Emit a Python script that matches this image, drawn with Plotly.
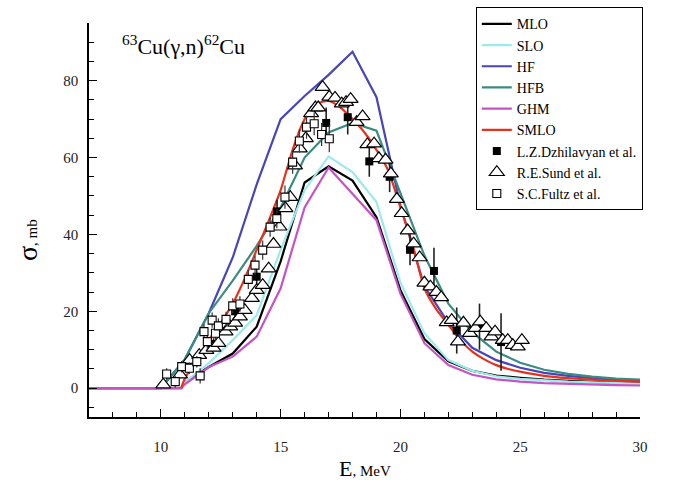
import plotly.graph_objects as go

# ---------------- model curves ----------------
E_mlo = [7, 10.85, 11, 12, 13, 14, 15, 16, 17, 18, 19, 20, 21, 22, 23, 24, 25, 26, 27, 28, 29, 30]
s_mlo = [0, 0, 1.5, 5.5, 9, 16, 33, 53.5, 57.7, 54, 44.5, 25.5, 12.8, 7, 4.5, 3.3, 2.7, 2.2, 1.9, 1.6, 1.4, 1.3]

E_slo = [7, 10.85, 11, 12, 13, 14, 15, 16, 17, 18, 19, 20, 21, 22, 23, 24, 25, 26, 27, 28, 29, 30]
s_slo = [0, 0, 1.5, 6.5, 12.5, 19, 36, 51.5, 60.3, 56.2, 48.4, 27.5, 14.3, 7.3, 4.5, 3.1, 2.4, 2.0, 1.7, 1.5, 1.3, 1.2]

E_hf = [7, 10, 11, 12, 13, 14, 15, 16, 17, 18, 19, 20, 21, 22, 23, 24, 25, 26, 27, 28, 29, 30]
s_hf = [0, 0, 7.5, 19.5, 34, 53, 70, 76, 81.5, 87.5, 75.7, 47.5, 26.5, 17, 10.5, 7.3, 5.3, 4.0, 3.2, 2.6, 2.2, 1.9]

E_hfb = [7, 10, 11, 12, 13, 14, 15, 16, 17, 18, 19, 20, 21, 22, 23, 24, 25, 26, 27, 28, 29, 30]
s_hfb = [0, 0, 7.5, 19.5, 28, 37, 47, 60, 66.5, 69, 67, 50.5, 34.5, 22, 14.5, 9.5, 6.6, 4.8, 3.7, 3.0, 2.5, 2.2]

E_ghm = [7, 10.85, 11, 12, 13, 14, 15, 16, 17, 18, 19, 20, 21, 22, 23, 24, 25, 26, 27, 28, 29, 30]
s_ghm = [0, 0, 1, 5.5, 8.2, 13.4, 26, 47, 57.4, 50.5, 43.7, 24.6, 11.7, 6, 3.5, 2.3, 1.7, 1.3, 1.1, 0.9, 0.8, 0.7]

E_smlo = [10.85, 11, 11.5, 12, 12.5, 13, 13.5, 14, 14.5, 15, 15.5, 16, 16.5, 17, 17.5, 18, 18.5,
          19, 19.5, 20, 20.5, 21, 21.5, 22, 22.5, 23, 23.5, 24, 24.5, 25, 26, 27, 28, 29, 30]
s_smlo = [0, 2.5, 7.5, 12.5, 17, 22, 28.5, 36, 43.5, 51.5, 62, 70, 74, 74.7, 73, 70, 66.5,
          62, 56.5, 47, 37.5, 26, 20.5, 16.5, 12.5, 9.5, 7.5, 6, 5, 4.3, 3.2, 2.6, 2.2, 1.9, 1.7]

# ---------------- experimental data ----------------
E_dzh = [12.2, 13.1, 14.0, 14.85, 16.9, 17.8, 18.7, 19.55, 20.4, 21.4, 22.35, 23.3, 24.2]
s_dzh = [11.5, 20, 29, 46, 69, 70.5, 59, 55, 36, 30.5, 15, 16, 12]
e_dzh = [1.5, 2, 2.5, 3, 4, 4.5, 4, 4, 4, 6, 6, 6, 7.5]

E_sund = [10.1, 10.8, 11.2, 11.6, 11.9, 12.2, 12.4, 12.7, 12.9, 13.1, 13.3, 13.5, 13.8, 14.0,
          14.25, 14.5, 14.7, 14.95, 15.2, 15.4, 15.6, 15.8, 16.05, 16.27, 16.45, 16.57, 16.75,
          17.03, 17.27, 17.55, 17.73, 17.92, 18.17, 18.42, 18.62, 18.9, 19.1, 19.38, 19.6,
          19.85, 20.05, 20.3, 20.55, 20.8, 21.0, 21.25, 21.5, 21.7, 21.93, 22.14, 22.4, 22.63,
          22.9, 23.13, 23.33, 23.58, 23.8, 23.95, 24.27, 24.48, 24.69, 24.9, 25.07]
s_sund = [0.9, 3.5, 7.3, 8.6, 9.9, 10.5, 11.7, 14.7, 16, 17, 18.6, 20.3, 23.4, 25.5,
          26.8, 31.1, 37.5, 42, 46.8, 49.7, 57.9, 62.3, 65, 71.5, 73, 73, 78.3,
          75.8, 75.5, 74, 74.4, 75.2, 69.2, 70.7, 63.4, 63.6, 59.8, 59.4, 55.8,
          49.2, 45.5, 41, 37.6, 34, 27.4, 26.4, 25, 23.6, 17.1, 17.7, 12.1, 17,
          14.3, 15.6, 17.3, 15.6, 13.4, 14.7, 12.5, 12.5, 11.2, 10.8, 12.5]
e_sund = [0.8] * len(E_sund)

E_fultz = [10.24, 10.6, 10.87, 11.19, 11.5, 11.64, 11.8, 11.94, 12.14, 12.28, 12.4, 12.72, 13.0,
           13.3, 13.65, 13.93, 14.25, 14.56, 14.84, 15.18, 15.5, 15.78, 16.08, 16.4, 16.71, 17.03]
s_fultz = [3.7, 1.7, 5.6, 5.2, 6.9, 3.2, 14.7, 12.1, 17.7, 14.3, 16.2, 17.9, 21.4,
           21.9, 28.3, 32, 35.9, 41.9, 44.1, 49.7, 58.8, 64.3, 67.9, 68.8, 66, 64.9]
e_fultz = [1.5, 1.5, 1.5, 1.5, 1.5, 2, 2, 2, 2, 2, 2, 2, 2,
           2, 2.5, 2.5, 2.5, 2.5, 2.5, 3, 3, 3, 3, 3, 3, 3.5]

SERIF = "Liberation Serif"

fig = go.Figure()

curves = [
    ("MLO", E_mlo, s_mlo, "#000000"),
    ("SLO", E_slo, s_slo, "#9ee9ea"),
    ("HF", E_hf, s_hf, "#4646b8"),
    ("HFB", E_hfb, s_hfb, "#3a8c80"),
    ("GHM", E_ghm, s_ghm, "#c453c4"),
    ("SMLO", E_smlo, s_smlo, "#e8301e"),
]
for name, ex, sy, col in curves:
    fig.add_trace(go.Scatter(
        x=ex, y=sy, mode="lines", name=name,
        line=dict(color=col, width=2.2, shape="spline" if name == "SMLO" else "linear",
                  smoothing=0.6),
    ))

fig.add_trace(go.Scatter(
    x=E_dzh, y=s_dzh, mode="markers", name="L.Z.Dzhilavyan et al.",
    error_y=dict(type="data", array=e_dzh, color="#222222", thickness=1.6, width=0),
    marker=dict(symbol="square", size=8, color="black", line=dict(color="black", width=0)),
))
fig.add_trace(go.Scatter(
    x=E_sund, y=s_sund, mode="markers", name="R.E.Sund et al.",
    error_y=dict(type="data", array=e_sund, color="#333333", thickness=1, width=0),
    marker=dict(symbol="triangle-up", size=13, color="white", line=dict(color="black", width=1.2)),
))
fig.add_trace(go.Scatter(
    x=E_fultz, y=s_fultz, mode="markers", name="S.C.Fultz et al.",
    error_y=dict(type="data", array=e_fultz, color="#333333", thickness=1.2, width=0),
    marker=dict(symbol="square", size=8, color="white", line=dict(color="black", width=1.1)),
))

axis_common = dict(
    showline=True, linecolor="black", linewidth=1.5, showgrid=False, zeroline=False,
    ticks="inside", ticklen=8, tickwidth=1.3, tickcolor="black",
    tickfont=dict(family=SERIF, size=15, color="#222222"),
    mirror=False,
)
fig.update_xaxes(range=[7, 30], tick0=0, dtick=5, ticklabelstandoff=15,
                 minor=dict(ticks="inside", ticklen=5, dtick=1, tick0=0, tickwidth=1.2, tickcolor="black"),
                 **axis_common)
fig.update_yaxes(range=[-7.5, 95], tick0=0, dtick=20, ticklabelstandoff=6,
                 minor=dict(ticks="inside", ticklen=5, dtick=5, tick0=0, tickwidth=1.2, tickcolor="black"),
                 **axis_common)

fig.update_layout(
    width=681, height=486,
    margin=dict(l=89, r=41, t=23, b=69, autoexpand=False),
    paper_bgcolor="white", plot_bgcolor="white",
    showlegend=True,
    legend=dict(
        x=0.702, y=1.040, xanchor="left", yanchor="top",
        bordercolor="black", borderwidth=1, bgcolor="white",
        font=dict(family=SERIF, size=14, color="black"),
        traceorder="normal",
    ),
    annotations=[
        dict(text="<sup>63</sup>Cu(γ,n)<sup>62</sup>Cu", xref="paper", yref="paper",
             x=0.1706, y=0.944, xanchor="center", yanchor="middle", showarrow=False,
             font=dict(family=SERIF, size=22, color="black")),
        dict(text="σ<span style='font-size:15px'>, mb</span>", xref="paper", yref="paper",
             x=-0.112, y=0.45, xanchor="center", yanchor="middle", textangle=-90, showarrow=False,
             font=dict(family=SERIF, size=28, color="black")),
        dict(text="E<span style='font-size:15px'>, MeV</span>", xref="paper", yref="paper",
             x=0.5, y=-0.13, xanchor="center", yanchor="middle", showarrow=False,
             font=dict(family=SERIF, size=22, color="black")),
    ],
)

fig.write_html("out.html")
